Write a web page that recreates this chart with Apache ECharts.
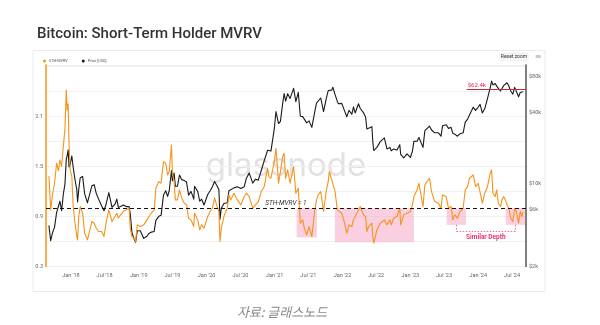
<!DOCTYPE html>
<html><head><meta charset="utf-8">
<script src="https://cdn.jsdelivr.net/npm/echarts@6/dist/echarts.min.js"></script>
<style>html,body{margin:0;padding:0;background:#fff}#c{width:600px;height:325px}</style>
</head><body><div id="c"></div><script>
// ---- data ----
const dates = ['2017-09-05','2017-09-14','2017-09-25','2017-10-05','2017-10-16','2017-10-26','2017-11-03','2017-11-12','2017-11-21','2017-11-30','2017-12-07','2017-12-12','2017-12-17','2017-12-22','2017-12-28','2018-01-06','2018-01-13','2018-01-23','2018-02-02','2018-02-06','2018-02-12','2018-02-20','2018-03-05','2018-03-16','2018-03-31','2018-04-10','2018-04-24','2018-05-06','2018-05-18','2018-05-30','2018-06-15','2018-06-28','2018-07-09','2018-07-24','2018-08-10','2018-08-26','2018-09-05','2018-09-13','2018-09-25','2018-10-10','2018-10-26','2018-11-10','2018-11-16','2018-11-25','2018-12-07','2018-12-15','2018-12-24','2019-01-09','2019-01-28','2019-02-14','2019-02-25','2019-03-10','2019-03-25','2019-04-03','2019-04-19','2019-05-01','2019-05-14','2019-05-26','2019-06-05','2019-06-14','2019-06-26','2019-07-01','2019-07-10','2019-07-17','2019-07-28','2019-08-08','2019-08-20','2019-09-03','2019-09-15','2019-09-26','2019-10-09','2019-10-24','2019-10-28','2019-11-14','2019-11-25','2019-12-05','2019-12-18','2020-01-07','2020-01-20','2020-02-01','2020-02-13','2020-02-24','2020-03-07','2020-03-13','2020-03-20','2020-04-03','2020-04-21','2020-04-30','2020-05-10','2020-05-27','2020-06-14','2020-07-03','2020-07-21','2020-08-02','2020-08-17','2020-09-05','2020-09-20','2020-10-05','2020-10-21','2020-11-06','2020-11-24','2020-12-01','2020-12-12','2020-12-30','2021-01-08','2021-01-22','2021-02-01','2021-02-13','2021-02-21','2021-03-01','2021-03-12','2021-03-25','2021-04-13','2021-04-25','2021-05-08','2021-05-19','2021-06-01','2021-06-10','2021-06-22','2021-07-05','2021-07-20','2021-08-04','2021-08-14','2021-08-23','2021-09-06','2021-09-21','2021-09-28','2021-10-05','2021-10-16','2021-10-22','2021-11-04','2021-11-10','2021-11-22','2021-12-04','2021-12-10','2021-12-28','2022-01-10','2022-01-24','2022-02-05','2022-02-20','2022-03-01','2022-03-10','2022-03-28','2022-04-06','2022-04-24','2022-05-05','2022-05-12','2022-05-21','2022-06-08','2022-06-13','2022-06-18','2022-07-05','2022-07-23','2022-08-14','2022-08-28','2022-09-13','2022-09-20','2022-10-03','2022-10-21','2022-11-05','2022-11-10','2022-11-26','2022-12-14','2023-01-01','2023-01-12','2023-01-20','2023-02-06','2023-02-16','2023-03-10','2023-03-20','2023-04-14','2023-04-25','2023-05-12','2023-06-01','2023-06-15','2023-06-23','2023-07-13','2023-07-25','2023-08-08','2023-08-17','2023-08-28','2023-09-07','2023-09-11','2023-09-25','2023-10-12','2023-10-23','2023-11-05','2023-11-15','2023-12-05','2023-12-18','2024-01-01','2024-01-11','2024-01-23','2024-02-05','2024-02-20','2024-03-05','2024-03-13','2024-03-20','2024-04-01','2024-04-09','2024-04-18','2024-04-30','2024-05-07','2024-05-17','2024-05-26','2024-06-04','2024-06-13','2024-06-24','2024-07-05','2024-07-15','2024-07-24','2024-08-05','2024-08-14','2024-08-23','2024-08-28'];

const sthMvrv = [1.38,0.98,1.18,1.30,1.54,1.45,1.58,1.50,1.74,1.95,2.42,2.18,2.25,1.78,1.46,1.38,1.02,0.82,0.66,0.62,0.90,1.02,0.94,0.70,0.62,0.64,0.84,0.82,0.76,0.72,0.72,0.66,0.82,0.98,0.84,0.90,0.94,0.88,0.92,0.96,0.98,1.00,0.76,0.66,0.64,0.60,0.80,0.78,0.80,0.86,0.90,0.94,0.98,1.24,1.32,1.30,1.56,1.54,1.40,1.44,1.76,1.42,1.32,1.10,1.10,1.22,1.12,1.06,1.04,0.88,0.86,0.78,0.94,0.86,0.74,0.80,0.76,0.90,0.96,1.00,1.12,1.04,0.96,0.60,0.76,0.90,1.00,1.16,1.10,1.18,1.10,1.04,1.14,1.18,1.14,1.00,1.04,1.08,1.20,1.26,1.48,1.38,1.36,1.56,1.72,1.30,1.44,1.62,1.66,1.36,1.46,1.30,1.50,1.18,1.24,0.82,0.86,0.76,0.68,0.78,0.66,0.96,1.10,1.16,1.20,0.96,0.98,1.20,1.32,1.44,1.34,1.36,1.20,0.98,0.98,0.94,0.84,0.70,0.80,0.78,0.86,0.86,0.98,1.02,0.92,0.90,0.72,0.78,0.82,0.66,0.58,0.74,0.82,0.86,0.80,0.86,0.80,0.88,0.90,1.00,0.80,0.92,0.94,0.96,1.04,1.14,1.22,1.30,1.02,1.28,1.36,1.20,1.08,1.06,1.00,1.16,1.14,1.00,1.02,0.86,0.92,0.94,0.88,0.96,1.00,1.22,1.26,1.36,1.40,1.26,1.30,1.30,1.06,1.18,1.26,1.42,1.46,1.18,1.14,1.22,1.06,1.02,1.10,1.14,1.10,1.04,1.00,0.88,0.84,1.00,0.96,0.82,0.96,0.90,0.95];

const priceUsd = [4400,3300,3900,4300,5700,5900,7100,5900,8100,9900,16000,17300,19300,13800,14500,17100,13800,10800,8800,7000,8900,11200,11500,8200,6900,6800,9600,9800,8200,7400,6500,5900,6700,8400,6300,6700,7400,6300,6400,6600,6400,6400,5600,3900,3400,3200,4000,4000,3450,3600,3800,3900,3950,4900,5300,5400,8000,8700,7800,8700,12900,10600,12300,9500,9500,11800,10800,10600,10300,8000,8600,7400,9500,8600,7100,7400,6600,8100,8700,9400,10400,9700,8900,5000,6200,6800,6900,8700,8700,9200,9400,9100,9400,11100,12300,10100,10900,10700,12900,15600,19100,18800,18800,28900,40500,32100,33500,47200,57500,49600,57300,52300,63500,49100,58800,37000,36700,36700,32500,33800,29800,39800,47800,49500,52700,40500,41000,51500,60900,60700,61400,64900,56300,49300,47100,47500,41800,36600,41400,38400,44400,39400,47100,43200,39500,36500,28900,29400,30200,22500,19000,20200,22600,24300,19600,20200,18900,19600,19200,21300,17600,16500,17800,16600,18800,22700,22800,24500,20200,28000,30500,28300,26800,26800,25100,30700,31400,29200,29800,26600,26100,25800,25100,26300,26800,33000,35000,37900,44100,41400,44200,46600,39500,42700,52300,63800,73100,67900,69700,71600,63500,60600,63100,67000,69400,70800,66800,60300,56700,64800,65900,54000,58700,60500,59400];

const xRange = ['2017-08-20', '2024-09-14'];
const xTickDates = ['2018-01-01','2018-07-01','2019-01-01','2019-07-01','2020-01-01','2020-07-01','2021-01-01','2021-07-01','2022-01-01','2022-07-01','2023-01-01','2023-07-01','2024-01-01','2024-07-01'];
const xTickLabels = ["Jan '18","Jul '18","Jan '19","Jul '19","Jan '20","Jul '20","Jan '21","Jul '21","Jan '22","Jul '22","Jan '23","Jul '23","Jan '24","Jul '24"];
const mvrvTickValues = [0.3, 0.9, 1.5, 2.1];
const mvrvTickLabels = ['0.3', '0.9', '1.5', '2.1'];
const priceTickValues = [2000, 6000, 10000, 40000, 80000];
const priceTickLabels = ['$2k', '$6k', '$10k', '$40k', '$80k'];

const shadeStarts = ['2021-04-29', '2021-11-21', '2023-07-15', '2024-05-28'];
const shadeEnds = ['2021-08-16', '2023-01-20', '2023-10-27', '2024-09-09'];
const shadeLows = [0.65, 0.59, 0.80, 0.80];
const mvrvLevel = 1;
const bracketDates = ['2023-09-07', '2024-07-17'];
const bracketLevels = [0.80, 0.72];
const sthPriceLevel = 62400;
const sthPriceLabel = '$62.4k';
const sthPriceStart = '2023-10-31';

// ---- chart ----
function T(s) { const p = s.split('-').map(Number); return new Date(p[0], p[1] - 1, p[2]).getTime(); }
const xTickTimes = xTickDates.map(T);
const ORANGE = '#f7931a';
const chart = echarts.init(document.getElementById('c'), null, { renderer: 'canvas' });

const shadeData = shadeStarts.map((s, i) => [{ xAxis: T(s), yAxis: mvrvLevel }, { xAxis: T(shadeEnds[i]), yAxis: shadeLows[i] }]);
const pinkDot = { color: '#ef6f9c', type: [1.5, 1.5], width: 1 };
const b0 = T(bracketDates[0]), b1 = T(bracketDates[1]);
const markLines = [
  { yAxis: mvrvLevel, lineStyle: { color: '#111', type: [4, 3], width: 1.1 },
    label: { show: true, position: 'insideMiddleTop', formatter: 'STH-MVRV = 1', fontStyle: 'italic', fontSize: 6.5, color: '#333', distance: 1 } },
  [{ coord: [b0, bracketLevels[0]], lineStyle: pinkDot, label: { show: false } }, { coord: [b0, bracketLevels[1]] }],
  [{ coord: [b1, bracketLevels[0]], lineStyle: pinkDot, label: { show: false } }, { coord: [b1, bracketLevels[1]] }],
  [{ coord: [b0, bracketLevels[1]], lineStyle: pinkDot,
     label: { show: true, position: 'insideMiddleBottom', formatter: 'Similar Depth', fontWeight: 'bold', fontSize: 6.5, color: '#e8336f', distance: 2 } },
   { coord: [b1, bracketLevels[1]] }]
];

chart.setOption({
  animation: false,
  backgroundColor: '#fff',
  textStyle: { fontFamily: 'Roboto' },
  title: { text: 'Bitcoin: Short-Term Holder MVRV', left: 32, top: 22,
    textStyle: { fontSize: 15, fontWeight: 500, color: '#333', fontFamily: 'Roboto' } },
  legend: { left: 38, top: 54, icon: 'circle', itemWidth: 3, itemHeight: 3, itemGap: 14,
    textStyle: { fontSize: 3.8, color: '#555', padding: [0, 0, 0, -2] }, data: ['STH-MVRV', 'Price [USD]'] },
  grid: { left: 46, right: 74, top: 65, bottom: 58.5, containLabel: false },
  xAxis: { type: 'value', min: T(xRange[0]), max: T(xRange[1]),
    axisLine: { show: false }, axisTick: { show: false }, splitLine: { show: false },
    axisLabel: { customValues: xTickTimes, fontSize: 5.5, color: '#666', margin: 6, hideOverlap: false,
      formatter: v => { const i = xTickTimes.findIndex(t => Math.abs(t - v) < 86400000); return i >= 0 ? xTickLabels[i] : ''; } } },
  yAxis: [
    { type: 'value', position: 'left', min: 0.3, max: 2.72, interval: 0.3,
      axisLine: { show: true, lineStyle: { color: ORANGE, width: 1.5 } }, axisTick: { show: false },
      splitLine: { show: true, lineStyle: { color: '#f0f0f0', width: 1 } },
      axisLabel: { fontSize: 5.5, color: '#666', margin: 3, padding: [0, 0, 6, 0], showMaxLabel: false,
        formatter: v => { const i = mvrvTickValues.findIndex(t => Math.abs(t - v) < 1e-6); return i >= 0 ? mvrvTickLabels[i] : ''; } } },
    { type: 'log', logBase: 10, position: 'right', min: 2000, max: 100000,
      axisLine: { show: true, lineStyle: { color: '#555', width: 1.5 } }, axisTick: { show: false },
      splitLine: { show: false }, axisLabel: { show: false } },
    { type: 'value', position: 'right', min: Math.log10(2000), max: 5,
      axisLine: { show: false }, axisTick: { show: false }, splitLine: { show: false },
      axisLabel: { customValues: priceTickValues.map(Math.log10), fontSize: 5.5, color: '#666', margin: 3, padding: [0, 0, 6, 0],
        formatter: v => { const i = priceTickValues.findIndex(t => Math.abs(Math.pow(10, v) - t) / t < 1e-6); return i >= 0 ? priceTickLabels[i] : ''; } } }
  ],
  series: [
    { name: 'Price [USD]', type: 'line', yAxisIndex: 1, showSymbol: false, symbol: 'none',
      itemStyle: { color: '#1a1a1a' }, lineStyle: { color: '#1a1a1a', width: 1.1, join: 'round', cap: 'round' },
      data: dates.map((d, i) => [T(d), priceUsd[i]]),
      markLine: { silent: true, symbol: ['none', 'none'],
        data: [[{ coord: [T(sthPriceStart), sthPriceLevel], lineStyle: { color: '#c0283c', width: 1, type: 'solid' },
                  label: { show: true, position: 'insideStartTop', formatter: sthPriceLabel, color: '#e0245e', fontSize: 6, distance: 1 } },
                { coord: [T(xRange[1]), sthPriceLevel] }]] } },
    { name: 'STH-MVRV', type: 'line', yAxisIndex: 0, showSymbol: false, symbol: 'none',
      itemStyle: { color: ORANGE }, lineStyle: { color: ORANGE, width: 1.1, join: 'round', cap: 'round' },
      data: dates.map((d, i) => [T(d), sthMvrv[i]]),
      markArea: { silent: true, itemStyle: { color: 'rgba(246,160,192,0.5)' }, data: shadeData },
      markLine: { silent: true, symbol: ['none', 'none'], data: markLines } }
  ],
  graphic: [
    { type: 'rect', z: -10, silent: true, shape: { x: 33, y: 50.5, width: 512, height: 241 },
      style: { fill: 'none', stroke: '#ebebeb', lineWidth: 1 } },
    { type: 'text', z: -5, silent: true,
      style: { text: 'glassnode', font: '33px Inter', fill: '#e2e2e2', x: 286, y: 166, textAlign: 'center', textVerticalAlign: 'middle' } },
    { type: 'rect', silent: true, shape: { x: 500, y: 53, width: 28, height: 8, r: 1.5 }, style: { fill: '#f7f7f7', stroke: '#e4e4e4', lineWidth: 0.5 } },
    { type: 'text', silent: true, style: { text: 'Reset zoom', x: 514, y: 57, font: '5px Roboto', fill: '#333', textAlign: 'center', textVerticalAlign: 'middle' } },
    { type: 'text', silent: true, style: { text: '≡', x: 538, y: 57, font: '8px "DejaVu Sans"', fill: '#999', textAlign: 'center', textVerticalAlign: 'middle' } },
    { type: 'text', silent: true, style: { text: '자료: 글래스노드', x: 282, y: 312, font: 'italic 13px "Noto Sans CJK KR"', fill: '#8a8a8a', textAlign: 'center', textVerticalAlign: 'middle' } }
  ]
});
</script></body></html>
